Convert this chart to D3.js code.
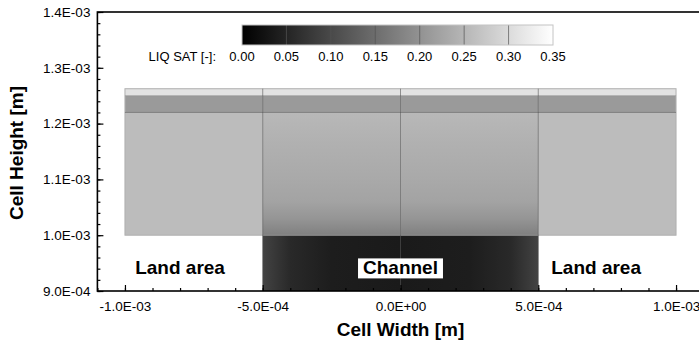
<!DOCTYPE html>
<html>
<head>
<meta charset="utf-8">
<script src="https://cdn.jsdelivr.net/npm/d3@7"></script>
<style>
  body { margin: 0; background: #fff; }
  svg { display: block; font-family: "Liberation Sans", Arial, sans-serif; }
</style>
</head>
<body>
<svg id="chart" width="699" height="347"></svg>
<script>
// axis ticks
const xTicks = [-1.0e-3, -5.0e-4, 0.0, 5.0e-4, 1.0e-3];
const xTickLabels = ["-1.0E-03", "-5.0E-04", "0.0E+00", "5.0E-04", "1.0E-03"];
const yTicks = [9.0e-4, 1.0e-3, 1.1e-3, 1.2e-3, 1.3e-3, 1.4e-3];
const yTickLabels = ["9.0E-04", "1.0E-03", "1.1E-03", "1.2E-03", "1.3E-03", "1.4E-03"];

// colour bar levels
const levels = [0.00, 0.05, 0.10, 0.15, 0.20, 0.25, 0.30, 0.35];
const levelLabels = ["0.00", "0.05", "0.10", "0.15", "0.20", "0.25", "0.30", "0.35"];

// cell columns (edges, m)
const colEdges = [-1.0e-3, -5.0e-4, 0.0, 5.0e-4, 1.0e-3];
const colType = ["land", "channel", "channel", "land"];

// horizontal layers above the channel (m) and their saturation under land
const layerBottom = [1.25e-3, 1.22e-3, 1.00e-3];
const layerTop = [1.2625e-3, 1.25e-3, 1.22e-3];
const layerSat = [0.310, 0.212, 0.258];

// saturation profile of the lowest layer above the channel (by height)
const profileY = [1.22e-3, 1.16e-3, 1.10e-3, 1.06e-3, 1.03e-3, 1.00e-3];
const profileSat = [0.252, 0.241, 0.232, 0.224, 0.204, 0.176];

// channel saturation across its width
const channelBottom = 9.0e-4;
const channelTop = 1.0e-3;
const channelX = [-5.0e-4, -4.0e-4, -2.5e-4, 0.0, 2.5e-4, 4.0e-4, 5.0e-4];
const channelSat = [0.092, 0.056, 0.040, 0.035, 0.040, 0.056, 0.092];

// region labels
const regionLabels = [
  { text: "Land area", x: -8.0e-4, y: 9.42e-4, boxed: false },
  { text: "Channel", x: 0.0, y: 9.42e-4, boxed: true },
  { text: "Land area", x: 7.1e-4, y: 9.42e-4, boxed: false }
];

const svg = d3.select("#chart");

const x = d3.scaleLinear().domain([-1.1e-3, 1.1e-3]).range([97.4, 703.6]);
const y = d3.scaleLinear().domain([9.0e-4, 1.4e-3]).range([291, 12]);
const color = d3.scaleLinear().domain([0, 0.35]).range(["#000000", "#ffffff"]);

const defs = svg.append("defs");

// vertical gradient for the layer above the channel
const gv = defs.append("linearGradient")
  .attr("id", "gradBody")
  .attr("gradientUnits", "userSpaceOnUse")
  .attr("x1", 0).attr("x2", 0)
  .attr("y1", y(profileY[0])).attr("y2", y(profileY[profileY.length - 1]));
profileY.forEach((v, i) => {
  gv.append("stop")
    .attr("offset", (y(v) - y(profileY[0])) / (y(profileY[profileY.length - 1]) - y(profileY[0])))
    .attr("stop-color", color(profileSat[i]));
});

// horizontal gradient for the channel
const gc = defs.append("linearGradient")
  .attr("id", "gradChannel")
  .attr("gradientUnits", "userSpaceOnUse")
  .attr("y1", 0).attr("y2", 0)
  .attr("x1", x(channelX[0])).attr("x2", x(channelX[channelX.length - 1]));
channelX.forEach((v, i) => {
  gc.append("stop")
    .attr("offset", (x(v) - x(channelX[0])) / (x(channelX[channelX.length - 1]) - x(channelX[0])))
    .attr("stop-color", color(channelSat[i]));
});

// colour bar gradient
const gb = defs.append("linearGradient").attr("id", "gradBar");
levels.forEach((v, i) => {
  gb.append("stop").attr("offset", i / (levels.length - 1)).attr("stop-color", color(v));
});

const cells = svg.append("g").attr("class", "cells");

// layers
layerTop.forEach((top, li) => {
  for (let c = 0; c < colType.length; c++) {
    let fill = color(layerSat[li]);
    if (li === 2 && colType[c] === "channel") fill = "url(#gradBody)";
    cells.append("rect")
      .attr("x", x(colEdges[c]))
      .attr("y", y(top))
      .attr("width", x(colEdges[c + 1]) - x(colEdges[c]))
      .attr("height", y(layerBottom[li]) - y(top))
      .attr("fill", fill);
  }
});

// channel
cells.append("rect")
  .attr("x", x(channelX[0]))
  .attr("y", y(channelTop))
  .attr("width", x(channelX[channelX.length - 1]) - x(channelX[0]))
  .attr("height", y(channelBottom) - y(channelTop))
  .attr("fill", "url(#gradChannel)");

// cell outlines
cells.append("rect")
  .attr("x", x(colEdges[0]))
  .attr("y", y(layerTop[0]))
  .attr("width", x(colEdges[4]) - x(colEdges[0]))
  .attr("height", y(layerBottom[2]) - y(layerTop[0]))
  .attr("fill", "none")
  .attr("stroke", "#b0b0b0")
  .attr("stroke-width", 1);

cells.append("line")
  .attr("x1", x(colEdges[0])).attr("x2", x(colEdges[4]))
  .attr("y1", y(layerBottom[1])).attr("y2", y(layerBottom[1]))
  .attr("stroke", "#707070").attr("stroke-width", 1).attr("opacity", 0.8);

cells.append("line")
  .attr("x1", x(colEdges[0])).attr("x2", x(colEdges[4]))
  .attr("y1", y(layerBottom[0])).attr("y2", y(layerBottom[0]))
  .attr("stroke", "#8a8a8a").attr("stroke-width", 1).attr("opacity", 0.5);

cells.append("line")
  .attr("x1", x(channelX[0])).attr("x2", x(channelX[channelX.length - 1]))
  .attr("y1", y(channelTop)).attr("y2", y(channelTop))
  .attr("stroke", "#606060").attr("stroke-width", 1).attr("opacity", 0.6);

[colEdges[1], colEdges[2], colEdges[3]].forEach(v => {
  cells.append("line")
    .attr("x1", x(v)).attr("x2", x(v))
    .attr("y1", y(layerTop[0])).attr("y2", y(channelBottom))
    .attr("stroke", "#555").attr("stroke-width", 1).attr("opacity", 0.6);
});

// region labels
regionLabels.forEach(d => {
  const t = svg.append("text")
    .attr("x", x(d.x))
    .attr("y", y(d.y))
    .attr("dy", "0.36em")
    .attr("text-anchor", "middle")
    .attr("font-size", "19px")
    .attr("font-weight", "bold")
    .attr("fill", "#000")
    .text(d.text);
  if (d.boxed) {
    const b = t.node().getBBox();
    svg.insert("rect", () => t.node())
      .attr("x", b.x - 5).attr("y", b.y + 1)
      .attr("width", b.width + 10).attr("height", b.height - 1)
      .attr("fill", "#fff");
  }
});

// axes
const gx = svg.append("g")
  .attr("transform", "translate(0," + y(9.0e-4) + ")");
gx.call(d3.axisBottom(x).ticks(22).tickSize(-3).tickFormat(""));
gx.call(g => g.select(".domain").remove());
const gx2 = svg.append("g")
  .attr("transform", "translate(0," + y(9.0e-4) + ")")
  .call(d3.axisBottom(x).tickValues(xTicks).tickSize(-6).tickPadding(10)
    .tickFormat((d, i) => xTickLabels[i]));
gx2.select(".domain").remove();

const gy = svg.append("g")
  .attr("transform", "translate(" + x(-1.1e-3) + ",0)");
gy.call(d3.axisLeft(y).ticks(25).tickSize(-3).tickFormat(""));
gy.call(g => g.select(".domain").remove());
const gy2 = svg.append("g")
  .attr("transform", "translate(" + x(-1.1e-3) + ",0)")
  .call(d3.axisLeft(y).tickValues(yTicks).tickSize(-6).tickPadding(7)
    .tickFormat((d, i) => yTickLabels[i]));
gy2.select(".domain").remove();

svg.selectAll(".tick line").attr("stroke", "#000").attr("stroke-width", 1.2);
svg.selectAll(".tick text")
  .attr("font-family", "'Liberation Sans', Arial, sans-serif")
  .attr("font-size", "13.5px")
  .attr("fill", "#000");

// frame
svg.append("rect")
  .attr("x", x(-1.1e-3)).attr("y", y(1.4e-3))
  .attr("width", x(1.1e-3) - x(-1.1e-3))
  .attr("height", y(9.0e-4) - y(1.4e-3))
  .attr("fill", "none")
  .attr("stroke", "#000")
  .attr("stroke-width", 1.6);

// axis titles
svg.append("text")
  .attr("x", x(0)).attr("y", 336)
  .attr("text-anchor", "middle")
  .attr("font-size", "19px").attr("font-weight", "bold")
  .text("Cell Width [m]");

svg.append("text")
  .attr("transform", "translate(23," + 153 + ") rotate(-90)")
  .attr("text-anchor", "middle")
  .attr("font-size", "19px").attr("font-weight", "bold")
  .text("Cell Height [m]");

// colour bar
const cb = d3.scaleLinear().domain([0, 0.35]).range([242, 553]);
const bar = svg.append("g").attr("class", "colorbar");
bar.append("rect")
  .attr("x", cb(0)).attr("y", 25)
  .attr("width", cb(0.35) - cb(0)).attr("height", 20)
  .attr("fill", "url(#gradBar)");
bar.selectAll("line.lvl")
  .data(levels.slice(1, -1))
  .join("line")
  .attr("class", "lvl")
  .attr("x1", d => cb(d)).attr("x2", d => cb(d))
  .attr("y1", 25).attr("y2", 45)
  .attr("stroke", "#555").attr("stroke-width", 1).attr("opacity", 0.7);
bar.append("rect")
  .attr("x", cb(0)).attr("y", 25)
  .attr("width", cb(0.35) - cb(0)).attr("height", 20)
  .attr("fill", "none").attr("stroke", "#c4c4c4").attr("stroke-width", 1);

bar.selectAll("text.lvl")
  .data(levels)
  .join("text")
  .attr("class", "lvl")
  .attr("x", d => cb(d)).attr("y", 61)
  .attr("text-anchor", "middle")
  .attr("font-size", "13px")
  .text((d, i) => levelLabels[i]);

bar.append("text")
  .attr("x", 216).attr("y", 61)
  .attr("text-anchor", "end")
  .attr("font-size", "13px")
  .text("LIQ SAT [-]:");
</script>
</body>
</html>
